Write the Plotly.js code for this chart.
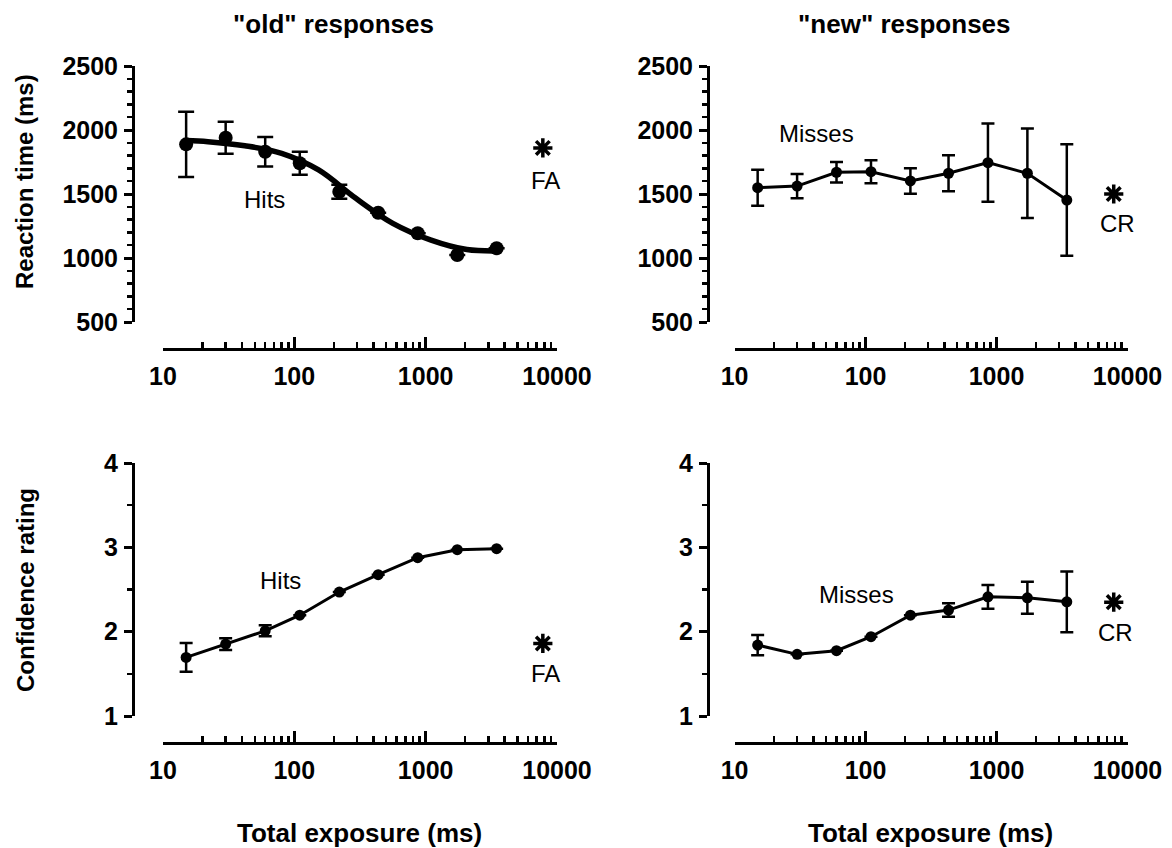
<!DOCTYPE html>
<html>
<head>
<meta charset="utf-8">
<script src="https://cdn.plot.ly/plotly-3.0.1.min.js"></script>
<style>html,body{margin:0;padding:0;background:#fff;}#chart{width:1172px;height:848px;}</style>
</head>
<body>
<div id="chart"></div>
<script>
// ---- data ----
const xOld = [15, 30, 60, 110, 220, 435, 870, 1740, 3470];
const xNew = [15, 30, 60, 110, 220, 430, 860, 1720, 3440];

const rtHits     = [1888, 1940, 1830, 1740, 1518, 1354, 1193, 1023, 1076];
const rtHitsErr  = [255, 125, 115, 90, 55, 0, 0, 0, 0];

// fitted curve
const fitX = [15, 22, 42, 80, 153, 294, 562, 1100, 2060, 3470];
const fitY = [1917, 1909, 1877, 1818, 1688, 1466, 1271, 1140, 1066, 1055];

const rtMisses    = [1549, 1562, 1670, 1674, 1602, 1662, 1745, 1662, 1453];
const rtMissesErr = [140, 95, 80, 90, 100, 140, 305, 350, 436];

const confHits    = [1.695, 1.853, 2.01, 2.195, 2.47, 2.676, 2.877, 2.972, 2.984];
const confHitsErr = [0.17, 0.07, 0.065, 0, 0, 0, 0, 0, 0];

const confMisses    = [1.841, 1.731, 1.774, 1.94, 2.196, 2.256, 2.413, 2.401, 2.354];
const confMissesErr = [0.12, 0, 0, 0, 0, 0.08, 0.14, 0.19, 0.36];

const faX = 7800, crX = 7850;
const rtFA = 1860, rtCR = 1500;
const confFA = 1.86, confCR = 2.35;

const rtTicks = [500, 1000, 1500, 2000, 2500];
const confTicks = [1, 2, 3, 4];
const xTicks = [10, 100, 1000, 10000];
const xTickText = ['10', '100', '1000', '10000'];

// ---- styling helpers ----
const W = 1172, H = 848;
const px = v => v / W;
const py = v => 1 - v / H;
const FONT = 'Liberation Sans, Arial, sans-serif';
const black = '#000';

const minorX = [];
[10, 100, 1000].forEach(d => { for (let k = 2; k <= 9; k++) minorX.push(k * d); });

function xAxis(x0, x1, yPos) {
  return {
    type: 'log', range: [1, 4], domain: [px(x0), px(x1)],
    anchor: 'free', position: py(yPos),
    showline: true, linewidth: 3, linecolor: black, mirror: false,
    showgrid: false, zeroline: false,
    tickmode: 'array', tickvals: xTicks, ticktext: xTickText,
    ticks: 'inside', ticklen: 11, tickwidth: 3, tickcolor: black,
    minor: { tickmode: 'array', tickvals: minorX, ticks: 'inside', ticklen: 6, tickwidth: 2.5, tickcolor: black, showgrid: false },
    tickfont: { family: FONT, size: 25, color: black, weight: 'bold' },
    ticklabelstandoff: 4,
    fixedrange: true
  };
}
function yAxis(xPos, y0, y1, range, ticks, minorStep) {
  return {
    range: range, domain: [py(y1), py(y0)],
    anchor: 'free', position: px(xPos),
    showline: true, linewidth: 3, linecolor: black,
    showgrid: false, zeroline: false,
    tickmode: 'array', tickvals: ticks,
    ticks: 'outside', ticklen: 8, tickwidth: 3, tickcolor: black,
    minor: { dtick: minorStep, ticks: 'outside', ticklen: 5, tickwidth: 2.5, tickcolor: black, showgrid: false },
    tickfont: { family: FONT, size: 25, color: black, weight: 'bold' },
    ticklabelstandoff: 1,
    fixedrange: true
  };
}

function errBar(arr, w) {
  return { type: 'data', array: arr, visible: true, color: black, thickness: 2.5, width: w };
}
const star = { symbol: 'asterisk-open', size: 16, color: black, line: { color: black, width: 3.5 } };

const traces = [
  // top-left: fitted curve + hits
  { x: fitX, y: fitY, xaxis: 'x', yaxis: 'y', mode: 'lines',
    line: { color: black, width: 5.5, shape: 'spline', smoothing: 1 }, hoverinfo: 'skip', cliponaxis: false },
  { x: xOld, y: rtHits, xaxis: 'x', yaxis: 'y', mode: 'markers',
    marker: { color: black, size: 14 }, error_y: errBar(rtHitsErr, 8), cliponaxis: false },
  { x: [faX], y: [rtFA], xaxis: 'x', yaxis: 'y', mode: 'markers', marker: star, cliponaxis: false },

  // top-right: misses
  { x: xNew, y: rtMisses, xaxis: 'x2', yaxis: 'y2', mode: 'lines+markers',
    line: { color: black, width: 3 }, marker: { color: black, size: 11 },
    error_y: errBar(rtMissesErr, 6.5), cliponaxis: false },
  { x: [crX], y: [rtCR], xaxis: 'x2', yaxis: 'y2', mode: 'markers', marker: star, cliponaxis: false },

  // bottom-left: confidence hits
  { x: xOld, y: confHits, xaxis: 'x3', yaxis: 'y3', mode: 'lines+markers',
    line: { color: black, width: 3 }, marker: { color: black, size: 11 },
    error_y: errBar(confHitsErr, 6.5), cliponaxis: false },
  { x: [faX], y: [confFA], xaxis: 'x3', yaxis: 'y3', mode: 'markers', marker: star, cliponaxis: false },

  // bottom-right: confidence misses
  { x: xNew, y: confMisses, xaxis: 'x4', yaxis: 'y4', mode: 'lines+markers',
    line: { color: black, width: 3 }, marker: { color: black, size: 11 },
    error_y: errBar(confMissesErr, 6.5), cliponaxis: false },
  { x: [crX], y: [confCR], xaxis: 'x4', yaxis: 'y4', mode: 'markers', marker: star, cliponaxis: false }
];

function txt(text, x, y, size, bold, angle) {
  return { text: text, xref: 'paper', yref: 'paper', x: px(x), y: py(y),
    xanchor: 'center', yanchor: 'middle', showarrow: false, textangle: angle || 0,
    font: { family: FONT, size: size, color: black, weight: bold ? 'bold' : 'normal' } };
}

const annotations = [
  txt('"old" responses', 333, 24, 26, true),
  txt('"new" responses', 904, 24, 26, true),
  txt('Reaction time (ms)', 24, 182, 24, true, -90),
  txt('Confidence rating', 25, 590, 24, true, -90),
  txt('Total exposure (ms)', 359, 833, 26, true),
  txt('Total exposure (ms)', 930, 833, 26, true),
  txt('Hits', 264, 199, 24, false),
  txt('Hits', 280, 580, 24, false),
  txt('Misses', 816, 134, 24, false),
  txt('Misses', 856, 594, 24, false),
  txt('FA', 545, 180, 24, false),
  txt('FA', 545, 673, 24, false),
  txt('CR', 1117, 224, 24, false),
  txt('CR', 1115, 632, 24, false)
];

const layout = {
  width: W, height: H,
  margin: { l: 0, r: 0, t: 0, b: 0, pad: 0 },
  paper_bgcolor: '#fff', plot_bgcolor: 'rgba(0,0,0,0)',
  showlegend: false,
  xaxis:  xAxis(163, 557, 349),
  yaxis:  yAxis(133, 66, 322, [500, 2500], rtTicks, 100),
  xaxis2: xAxis(734.6, 1127.5, 349),
  yaxis2: yAxis(708, 66, 322, [500, 2500], rtTicks, 100),
  xaxis3: xAxis(163, 557, 743),
  yaxis3: yAxis(133, 463, 716, [1, 4], confTicks, 0.5),
  xaxis4: xAxis(734.6, 1127.5, 743),
  yaxis4: yAxis(708, 463, 716, [1, 4], confTicks, 0.5),
  annotations: annotations
};

Plotly.newPlot('chart', traces, layout, { displayModeBar: false, staticPlot: true });
</script>
</body>
</html>
